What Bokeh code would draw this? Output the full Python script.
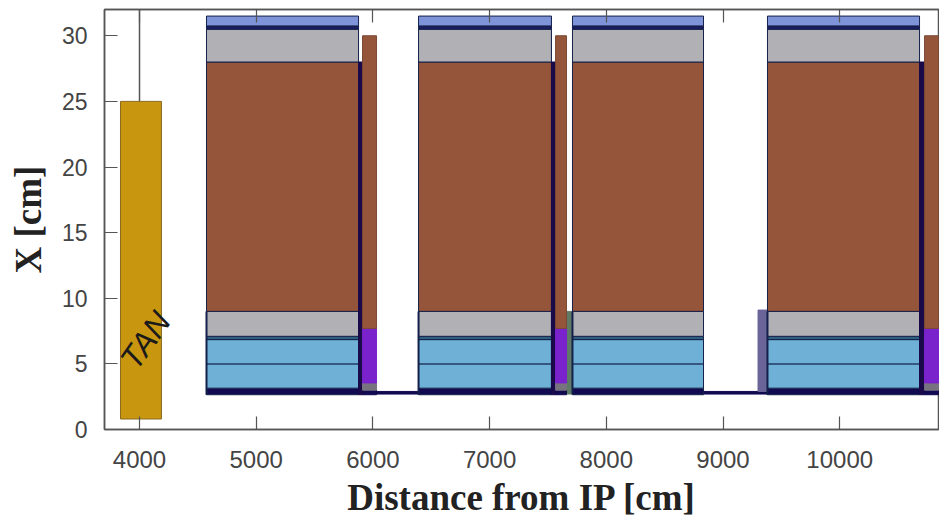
from bokeh.plotting import figure
from bokeh.models import LinearAxis, FixedTicker, Range1d
from bokeh.core.properties import value
from bokeh.embed import file_html
from bokeh.resources import INLINE

x_ticks = [4000, 5000, 6000, 7000, 8000, 9000, 10000]
y_ticks = [0, 5, 10, 15, 20, 25, 30]

module_start = [4574, 6391, 7710, 9381]
module_end = [5877, 7530, 8833, 10684]

layer_bottom = [2.65, 3.15, 5.0, 6.85, 7.1, 9.0, 28.0, 30.5, 30.75]
layer_top = [3.15, 5.0, 6.85, 7.1, 9.0, 28.0, 30.5, 30.75, 31.5]
layer_color = ["#120a50", "#6fb1d6", "#6fb1d6", "#2f5f7f", "#b0b0b5", "#95553a", "#b0b0b5", "#1c1c60", "#7e93d8"]

bar_start = [5877, 7530, 10684]
bar_end = [5911, 7565, 10727]
bar_bottom = 2.65
bar_top = 28.0

side_start = [5911, 7565, 10727]
side_end = [6031, 7659, 10847]
side_bottom = [2.65, 3.0, 3.55, 7.7]
side_top = [3.0, 3.55, 7.7, 30.0]
side_color = ["#120a50", "#77737f", "#7a22cc", "#95553a"]
side_edge = ["#120a50", "#77737f", "#7a22cc", "#7a4a35"]

strip_start = [7659, 9300]
strip_end = [7702, 9381]
strip_bottom = [2.7, 2.9]
strip_top = [9.0, 9.1]
strip_color = ["#5f7a66", "#6a6498"]

pipe_start = [6031, 8833]
pipe_end = [6391, 9381]
pipe_bottom = [2.7, 2.7]
pipe_top = [2.9, 2.9]

tan_left, tan_right, tan_bottom, tan_top = 3837, 4188, 0.8, 25.0
tan_line_x = [4000, 4000]
tan_line_y = [25.0, 32.0]
axis_color = "#555555"

p = figure(width=939, height=520, output_backend="svg", toolbar_location=None,
           x_range=Range1d(3700, 10855), y_range=Range1d(0, 32),
           min_border_left=104, min_border_top=9, min_border_right=0, min_border_bottom=91,
           x_axis_label="Distance from IP [cm]", y_axis_label="X [cm]")
p.grid.visible = False
p.outline_line_color = axis_color
p.outline_line_width = 1.5

p.line(tan_line_x, tan_line_y, line_color=axis_color, line_width=1.5)
p.quad(left=[tan_left], right=[tan_right], bottom=[tan_bottom], top=[tan_top],
       fill_color="#c8960f", line_color="#8a6a20", line_width=1)

p.quad(left=pipe_start, right=pipe_end, bottom=pipe_bottom, top=pipe_top,
       fill_color="#120a50", line_color="#120a50")

p.quad(left=strip_start, right=strip_end, bottom=strip_bottom, top=strip_top,
       fill_color=strip_color, line_color=strip_color, line_width=1)

n = len(layer_bottom)
for s, e in zip(module_start, module_end):
    p.quad(left=[s] * n, right=[e] * n, bottom=layer_bottom, top=layer_top,
           fill_color=layer_color, line_color="#14204a", line_width=1)
    p.line([s, s], [2.65, 9.0], line_color="#14204a", line_width=2)

p.quad(left=bar_start, right=bar_end, bottom=[bar_bottom] * 3, top=[bar_top] * 3,
       fill_color="#1a0a4a", line_color="#1a0a4a", line_width=1)

m = len(side_bottom)
for s, e in zip(side_start, side_end):
    p.quad(left=[s] * m, right=[e] * m, bottom=side_bottom, top=side_top,
           fill_color=side_color, line_color=side_edge, line_width=1)

p.text(x=[4051], y=[6.8], text=["TAN"], angle=[0.96], text_color="#1a1a1a",
       text_font_size="32px", text_font_style="italic", text_font=value("Liberation Sans"),
       text_align="center", text_baseline="middle")

for ax in [p.xaxis[0], p.yaxis[0]]:
    ax.axis_line_color = axis_color
    ax.axis_line_width = 1.5
    ax.major_tick_line_color = axis_color
    ax.major_tick_line_width = 1.2
    ax.major_tick_in = 13
    ax.major_tick_out = 0
    ax.minor_tick_line_color = None
    ax.major_label_text_font = "Liberation Sans"
    ax.major_label_text_font_size = "23px"
    ax.major_label_text_color = "#444444"
    ax.axis_label_text_font = "Liberation Serif"
    ax.axis_label_text_font_style = "bold"
    ax.axis_label_text_font_size = "37px"
    ax.axis_label_text_color = "#222222"

p.xaxis[0].ticker = FixedTicker(ticks=x_ticks)
p.yaxis[0].ticker = FixedTicker(ticks=y_ticks)
p.xaxis[0].major_label_text_font_size = "24px"
p.xaxis[0].major_label_standoff = 21
p.yaxis[0].major_label_standoff = 17
p.xaxis[0].axis_label_standoff = 6
p.yaxis[0].axis_label_standoff = 10

top = LinearAxis(ticker=FixedTicker(ticks=x_ticks), major_label_text_font_size="0px",
                 major_label_standoff=0, axis_line_color=axis_color, axis_line_width=1.5,
                 major_tick_line_color=axis_color, major_tick_line_width=1.2,
                 major_tick_in=13, major_tick_out=0, minor_tick_line_color=None,
                 major_label_text_color=None)
p.add_layout(top, "above")

open("out.html", "w").write(file_html(p, INLINE))
